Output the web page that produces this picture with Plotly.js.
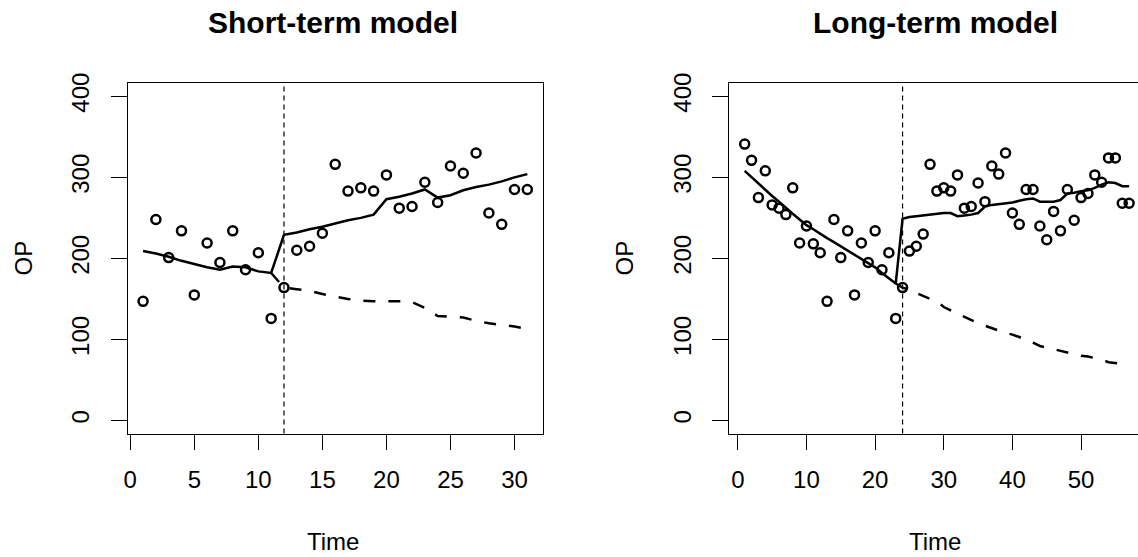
<!DOCTYPE html>
<html>
<head>
<meta charset="utf-8">
<script src="https://cdn.plot.ly/plotly-3.0.1.min.js"></script>
<style>
  html, body { margin: 0; padding: 0; background: #fff; overflow: hidden; }
  #chart { width: 1150px; height: 557px; }
</style>
</head>
<body>
<div id="chart"></div>
<script>
// ---------- data ----------
const timeShort = [1,2,3,4,5,6,7,8,9,10,11,12,13,14,15,16,17,18,19,20,21,22,23,24,25,26,27,28,29,30,31];
const opShort   = [147,248,201,234,155,219,195,234,186,207,126,164,210,215,231,316,283,287,283,303,262,264,294,269,314,305,330,256,242,285,285];
const fitShort  = [209,206,202,197,193,189,186,190,189,184,182,229,232,236,239,243,247,250,254,273,276,280,285,275,278,284,288,291,295,300,304];
const cfTimeShort = [11,12,13,14,15,16,17,18,19,20,21,22,23,24,25,26,27,28,29,30,31];
const cfShort     = [182,164,162,160,156,153,150,148,147,147,147,146,139,129,128,127,123,120,118,116,113];
const breakShort = 12;

const timeLong = [1,2,3,4,5,6,7,8,9,10,11,12,13,14,15,16,17,18,19,20,21,22,23,24,25,26,27,28,29,30,31,32,33,34,35,36,37,38,39,40,41,42,43,44,45,46,47,48,49,50,51,52,53,54,55,56,57];
const opLong   = [341,321,275,308,266,262,254,287,219,240,218,207,147,248,201,234,155,219,195,234,186,207,126,164,209,215,230,316,283,287,283,303,262,264,293,270,314,304,330,256,242,285,285,240,223,258,234,285,247,275,280,303,294,324,324,268,268];
const fitLong  = [308,300,292,285,277,270,262,255,248,241,236,230,225,220,215,210,205,200,195,189,182,176,169,249,251,252,253,254,255,256,256,252,253,254,256,264,266,267,268,269,271,273,274,270,270,270,272,280,281,283,284,287,291,294,293,289,289];
const cfTimeLong = [23,24,25,26,27,28,29,30,31,32,33,34,35,36,37,38,39,40,41,42,43,44,45,46,47,48,49,50,51,52,53,54,55,56,57];
const cfLong     = [169,164,161,157,154,150,147,140,136,132,127,123,120,117,114,111,108,106,103,99,96,92,90,88,86,84,82,80,79,77,75,72,71,70,69];
const breakLong = 24;

const xTicksShort = [0,5,10,15,20,25,30];
const xTicksLong  = [0,10,20,30,40,50];
const yTicks = [0,100,200,300,400];
const titleShort = 'Short-term model';
const titleLong = 'Long-term model';
const xLabel = 'Time';
const yLabel = 'OP';

// ---------- layout helpers ----------
const W = 1150, H = 557;
const fx = px => px / W;
const fy = py => 1 - py / H;
const FONT = 'Liberation Sans, Arial, Helvetica, sans-serif';

function pts(x, y, xa, ya) {
  return { x, y, xaxis: xa, yaxis: ya, type: 'scatter', mode: 'markers',
    marker: { symbol: 'circle-open', size: 9, color: 'black', line: { color: 'black', width: 2.5 } },
    hoverinfo: 'x+y' };
}
function line(x, y, xa, ya, dash) {
  return { x, y, xaxis: xa, yaxis: ya, type: 'scatter', mode: 'lines',
    line: { color: 'black', width: 2.5, dash: dash || 'solid' }, hoverinfo: 'x+y' };
}

const data = [
  pts(timeShort, opShort, 'x', 'y'),
  line(timeShort, fitShort, 'x', 'y'),
  line(cfTimeShort, cfShort, 'x', 'y', '12px,13px'),
  pts(timeLong, opLong, 'x2', 'y2'),
  line(timeLong, fitLong, 'x2', 'y2'),
  line(cfTimeLong, cfLong, 'x2', 'y2', '12px,13px')
];

function xax(dom, range, ticks, anchor) {
  return { domain: dom, range, tickvals: ticks, ticktext: ticks.map(String), ticks: 'outside',
    ticklen: 15, tickwidth: 1, tickcolor: 'black', showline: true, mirror: true,
    linecolor: 'black', linewidth: 1, showgrid: false, zeroline: false, anchor,
    ticklabelstandoff: 10,
    tickfont: { family: FONT, size: 24, color: 'black' }, fixedrange: true };
}
function yax(dom, anchor) {
  return { domain: dom, range: [-16, 416], tickvals: yTicks, ticktext: yTicks.map(String),
    ticks: 'outside', ticklen: 16, tickwidth: 1, tickcolor: 'black', showline: true, mirror: true,
    linecolor: 'black', linewidth: 1, showgrid: false, zeroline: false, anchor, tickangle: -90,
    ticklabelstandoff: 12,
    tickfont: { family: FONT, size: 24, color: 'black' }, fixedrange: true };
}

const yDom = [fy(433.5), fy(83.3)];
function ann(text, xpx, ypx, size, bold, angle) {
  return { text: bold ? '<b>' + text + '</b>' : text, xref: 'paper', yref: 'paper',
    x: fx(xpx), y: fy(ypx), xanchor: 'center', yanchor: 'middle', showarrow: false,
    textangle: angle || 0, font: { family: FONT, size, color: 'black' } };
}

const layout = {
  width: W, height: H, margin: { l: 0, r: 0, t: 0, b: 0 }, showlegend: false,
  paper_bgcolor: 'white', plot_bgcolor: 'white',
  xaxis:  xax([fx(127.7), fx(542.7)], [-0.2, 32.2], xTicksShort, 'y'),
  yaxis:  yax(yDom, 'x'),
  xaxis2: xax([fx(729.3), fx(1144.5)], [-1.24, 59.24], xTicksLong, 'y2'),
  yaxis2: yax(yDom, 'x2'),
  shapes: [
    { type: 'line', xref: 'x', yref: 'y domain', x0: breakShort, x1: breakShort, y0: 0, y1: 1,
      line: { color: 'black', width: 1.2, dash: '5px,4px' } },
    { type: 'line', xref: 'x2', yref: 'y2 domain', x0: breakLong, x1: breakLong, y0: 0, y1: 1,
      line: { color: 'black', width: 1.2, dash: '5px,4px' } }
  ],
  annotations: [
    ann(titleShort, 332.5, 23, 30, true),
    ann(titleLong, 935.5, 23, 30, true),
    ann(xLabel, 332.7, 541, 24, false),
    ann(xLabel, 935, 541, 24, false),
    ann(yLabel, 23, 258.5, 24, false, -90),
    ann(yLabel, 624, 258.5, 24, false, -90)
  ]
};

Plotly.newPlot('chart', data, layout, { displayModeBar: false, staticPlot: true });
</script>
</body>
</html>
